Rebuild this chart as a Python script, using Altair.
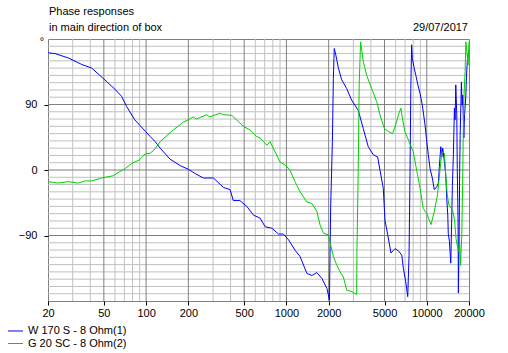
import altair as alt
import pandas as pd

TITLE_1 = "Phase responses"
TITLE_2 = "in main direction of box"
DATE = "29/07/2017"
W_NAME = "W 170 S - 8 Ohm(1)"
G_NAME = "G 20 SC - 8 Ohm(2)"
COLORS = ["#0000ff", "#00d000"]

w_freq = [20, 22.4, 27.9, 34.8, 41, 50, 60, 67, 72.8, 83, 99, 107, 116, 126, 148, 175,
          200, 224, 256, 302, 356, 397, 418, 466, 522, 582, 648, 706, 788, 878, 952,
          1036, 1150, 1252, 1398, 1518, 1648, 1790, 1946, 2012, 2025, 2066, 2126, 2160,
          2192, 2250, 2346, 2476, 2686, 2916, 3250, 3528, 3830, 4158, 4468, 4640, 4900,
          5040, 5268, 5560, 5944, 6280, 6640, 6810, 7080, 7320, 7480, 7600, 7700, 7800,
          7900, 8140, 8360, 8640, 8960, 9300, 9720, 10000, 10260, 10550, 10960, 11320,
          11780, 12100, 12300, 12590, 12800, 13000, 13360, 13660, 13900, 14120, 14230,
          14500, 14830, 15230, 15480, 15740, 15920, 16100, 16370, 16500, 16720, 16800,
          17000, 17150, 17300, 17660, 17870, 18050, 18370, 18600, 18960, 19200, 19500,
          19750, 20000]
w_phase = [161, 160, 154, 145, 140, 125, 111, 101, 87, 69, 53, 46, 39, 30, 15, 6,
           1, -5, -11, -11, -24, -27, -42, -42, -50, -62, -66, -78, -80, -88, -88,
           -96, -110, -119, -142, -145, -141, -149, -163, -176, -179, -52, 39, 126,
           167, 158, 140, 124, 112, 96, 82, 57, 32, 21, 18, 0, -25,
           -69, -89, -114, -108, -111, -117, -135, -153, -174, -117, -2, 112, 172,
           153, 140, 130, 117, 105, 89, 62, 39, 21, 2, -11, -27,
           -23, -18, 5, 32, 18, 30, 11, -7, -41, -62, -87,
           -98, -128, -21, 21, 85, 69, 117, 76, 2, -71, -169,
           -98, -7, 48, 121, 89, 103, 44, 76, 99, 130, 153,
           160, 165]

g_freq = [20, 23.7, 27.9, 32.9, 36.6, 41, 48.2, 58, 70.9, 79, 90, 98, 107, 116, 126,
          156, 185, 200, 217, 228, 270, 283, 336, 355, 408, 494, 550, 614, 648, 726,
          764, 830, 900, 978, 1060, 1150, 1252, 1398, 1518, 1648, 1740, 1840, 1980,
          2040, 2160, 2288, 2414, 2546, 2686, 2916, 3166, 3180, 3250, 3300, 3376, 3528,
          3732, 4050, 4398, 4640, 4980, 5318, 5712, 6006, 6340, 6540, 6640, 6980, 7480,
          8020, 8500, 8960, 9440, 10000, 10720, 11320, 11920, 12400, 12800, 13360,
          13660, 14000, 14380, 15260, 15780, 16160, 16780, 17150, 17400, 17770, 18000,
          18200, 18400, 18750, 19000, 19300, 19700, 20000]
g_phase = [-16, -18, -16, -18, -15, -15, -11, -8, 2, 9, 14, 22, 23, 29, 39,
           55, 66, 69, 73, 70, 76, 73, 78, 76, 75, 60, 55, 46, 44, 34,
           39, 25, 11, 7, 0, -16, -30, -44, -46, -57, -76, -87, -89,
           -98, -119, -131, -140, -147, -165, -167, -171, -112, 2, 117, 176, 149,
           130, 112, 94, 76, 57, 53, 50, 62, 78, 85, 76, 53, 39,
           25, -2, -25, -53, -60, -75, -57, -34, -2, 25, 23,
           -7, -34, -48, -55, -69, -94, -112, -98, -131, -89, -21,
           48, 99, 135, 176, 163, 144, 176]

x_ticks = [20, 50, 100, 200, 500, 1000, 2000, 5000, 10000, 20000]
x_grid_major = [50, 100, 200, 500, 1000, 2000, 5000, 10000]
x_grid_minor = [30, 40, 60, 70, 80, 90, 300, 400, 600, 700, 800, 900,
                3000, 4000, 6000, 7000, 8000, 9000]
y_ticks = [-90, 0, 90]
y_grid_major = [-90, 0, 90]
y_grid_minor = [v for v in range(-170, 180, 10) if v % 90 != 0]

FONT = "Liberation Sans"
FS = 11

rows = []
for name, fr, ph in [(W_NAME, w_freq, w_phase), (G_NAME, g_freq, g_phase)]:
    for i, (f, p) in enumerate(zip(fr, ph)):
        rows.append({"f": f, "p": p, "series": name, "idx": i})
df = pd.DataFrame(rows)

xscale = alt.Scale(type="log", domain=[20, 20000], nice=False)
yscale = alt.Scale(domain=[-180, 180], nice=False)

x_axis = alt.Axis(values=x_ticks, format="d", title=None, grid=False, domain=False,
                  labelFont=FONT, labelFontSize=FS, labelColor="black",
                  tickColor="black", tickSize=4, labelPadding=2,
                  labelFlush=False, labelOverlap=False)
y_axis = alt.Axis(values=y_ticks, title=None, grid=False, domain=False,
                  labelFont=FONT, labelFontSize=FS, labelColor="black",
                  tickColor="black", tickSize=4, labelPadding=7,
                  labelFlush=False, labelOverlap=False)

X = alt.X("f:Q", scale=xscale, axis=x_axis)
Y = alt.Y("p:Q", scale=yscale, axis=y_axis)


def xrules(vals, color):
    return alt.Chart(pd.DataFrame({"f": vals})).mark_rule(color=color, strokeWidth=1).encode(x=X)


def yrules(vals, color):
    return alt.Chart(pd.DataFrame({"p": vals})).mark_rule(color=color, strokeWidth=1).encode(y=Y)


lines = alt.Chart(df).mark_line(strokeWidth=1, clip=True).encode(
    x=X,
    y=Y,
    color=alt.Color("series:N", scale=alt.Scale(domain=[W_NAME, G_NAME], range=COLORS), legend=None),
    order=alt.Order("idx:Q"),
)

one = pd.DataFrame({"a": [0]})
degree = alt.Chart(one).mark_text(text="°", font=FONT, fontSize=FS, align="center",
                                  baseline="top", color="black").encode(
    x=alt.value(-6), y=alt.value(-3))

t1 = alt.Chart(one).mark_text(text=TITLE_1, font=FONT, fontSize=FS, align="left",
                              baseline="alphabetic", color="black").encode(
    x=alt.value(1), y=alt.value(-24))
t2 = alt.Chart(one).mark_text(text=TITLE_2, font=FONT, fontSize=FS, align="left",
                              baseline="alphabetic", color="black").encode(
    x=alt.value(1), y=alt.value(-8))
t3 = alt.Chart(one).mark_text(text=DATE, font=FONT, fontSize=FS, align="right",
                              baseline="alphabetic", color="black").encode(
    x=alt.value(420), y=alt.value(-8))

legend_layers = []
for k, (name, col) in enumerate(zip([W_NAME, G_NAME], COLORS)):
    ypos = 292 + 12.5 * k
    legend_layers.append(
        alt.Chart(one).mark_rule(color=col, strokeWidth=1).encode(
            x=alt.value(-40), x2=alt.value(-25), y=alt.value(ypos)))
    legend_layers.append(
        alt.Chart(one).mark_text(text=name, font=FONT, fontSize=FS, align="left",
                                 baseline="middle", color="black").encode(
            x=alt.value(-20), y=alt.value(ypos)))

chart = alt.layer(
    xrules(x_grid_minor, "#c0c0c0"),
    yrules(y_grid_minor, "#c0c0c0"),
    xrules(x_grid_major, "#808080"),
    yrules(y_grid_major, "#808080"),
    lines,
    degree, t1, t2, t3,
    *legend_layers,
).properties(
    width=421, height=262,
    autosize=alt.AutoSizeParams(type="none"),
    padding={"left": 48, "top": 39, "right": 39, "bottom": 52},
    background="white",
).configure_view(stroke="#808080", strokeWidth=1)

chart.save("out.html", embed_options={"renderer": "svg", "actions": False})
